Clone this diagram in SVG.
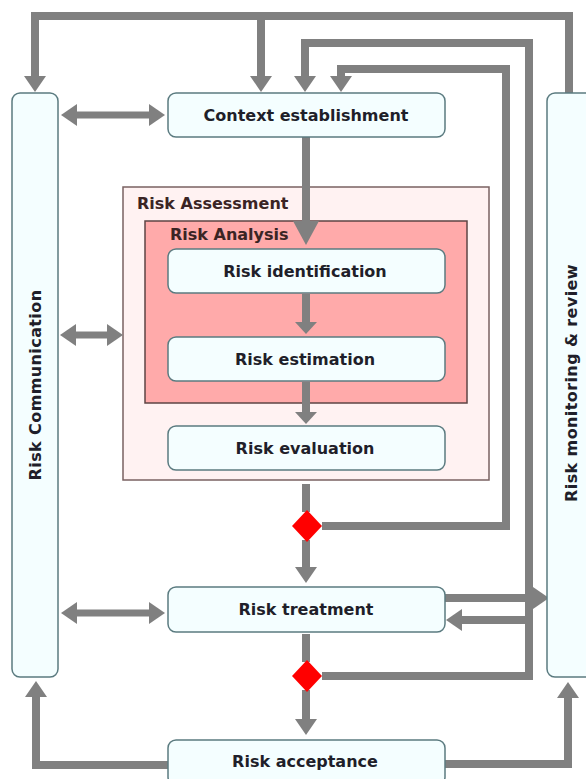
<svg xmlns="http://www.w3.org/2000/svg" width="586" height="779" viewBox="0 0 586 779">
<style>
.node{fill:#f4feff;stroke:#5b7b80;stroke-width:1.5}
.lbl{font-family:"DejaVu Sans","Verdana",sans-serif;font-weight:bold;font-size:16px;fill:#1f1f2a;text-anchor:middle;dominant-baseline:central}
.vl{letter-spacing:0.4px}
.ttl{font-family:"DejaVu Sans","Verdana",sans-serif;font-weight:bold;font-size:16px;fill:#3a2424}
.ln{fill:none;stroke:#808080;stroke-width:8;stroke-linejoin:miter}
.thin{fill:none;stroke:#808080;stroke-width:7}
</style>
<defs>
<marker id="ah" markerUnits="userSpaceOnUse" markerWidth="16" markerHeight="22" viewBox="0 0 16 22" refX="0" refY="11" orient="auto-start-reverse"><path d="M0,0 L16,11 L0,22 Z" fill="#808080"/></marker>
<marker id="ahb" markerUnits="userSpaceOnUse" markerWidth="24" markerHeight="26" viewBox="0 0 24 26" refX="0" refY="13" orient="auto"><path d="M0,0 L24,13 L0,26 Z" fill="#808080"/></marker>
<marker id="ahs" markerUnits="userSpaceOnUse" markerWidth="12" markerHeight="22" viewBox="0 0 12 22" refX="0" refY="11" orient="auto"><path d="M0,0 L12,11 L0,22 Z" fill="#808080"/></marker>
</defs>

<g id="risk-assessment">
<rect x="123" y="187" width="366" height="293" fill="#fff2f2" stroke="#7a6262" stroke-width="1.5"/>
<text class="ttl" x="137" y="209">Risk Assessment</text>
</g>
<g id="risk-analysis">
<rect x="145" y="221" width="322" height="182" fill="#ffaaaa" stroke="#5e4444" stroke-width="1.5"/>
<text class="ttl" x="170" y="240">Risk Analysis</text>
</g>

<g id="connectors">
<path class="ln" d="M569,93 V16 H35 V76" marker-end="url(#ah)"/>
<path class="ln" d="M261,16 V76" marker-end="url(#ah)"/>
<path class="ln" d="M322,676 H529 V43 H305 V76" marker-end="url(#ah)"/>
<path class="ln" d="M322,526 H506 V69 H341 V76" marker-end="url(#ah)"/>
<path class="ln" d="M306,137 V221" marker-end="url(#ahb)"/>
<path class="ln" d="M306,294 V322" marker-end="url(#ahs)"/>
<path class="ln" d="M306,382 V412" marker-end="url(#ahs)"/>
<path class="ln" d="M306,484 V512"/>
<path class="ln" d="M306,540 V567" marker-end="url(#ah)"/>
<path class="ln" d="M306,634 V662"/>
<path class="ln" d="M306,690 V719" marker-end="url(#ah)"/>
<path class="ln" d="M445,598 H533" marker-end="url(#ah)"/>
<path class="ln" d="M525,620 H462" marker-end="url(#ah)"/>
<path class="ln" d="M445,764 H568 V698" marker-end="url(#ah)"/>
<path class="ln" d="M168,765 H36 V697" marker-end="url(#ah)"/>
<path class="thin" d="M77,115 H149" marker-start="url(#ah)" marker-end="url(#ah)"/>
<path class="thin" d="M76,335 H107" marker-start="url(#ah)" marker-end="url(#ah)"/>
<path class="thin" d="M77,613 H149" marker-start="url(#ah)" marker-end="url(#ah)"/>
</g>

<g id="risk-communication">
<rect class="node" x="12" y="93" width="46" height="584" rx="8"/>
<text class="lbl vl" transform="translate(35,385) rotate(-90)">Risk Communication</text>
</g>
<g id="risk-monitoring">
<rect class="node" x="547" y="93" width="56" height="584" rx="8"/>
<text class="lbl vl" transform="translate(571,383) rotate(-90)">Risk monitoring &amp; review</text>
</g>
<g id="context-establishment">
<rect class="node" x="168" y="93" width="277" height="44" rx="8"/>
<text class="lbl" x="306" y="115">Context establishment</text>
</g>
<g id="risk-identification">
<rect class="node" x="168" y="249" width="277" height="44" rx="8"/>
<text class="lbl" x="305" y="271">Risk identification</text>
</g>
<g id="risk-estimation">
<rect class="node" x="168" y="337" width="277" height="44" rx="8"/>
<text class="lbl" x="305" y="359">Risk estimation</text>
</g>
<g id="risk-evaluation">
<rect class="node" x="168" y="426" width="277" height="44" rx="8"/>
<text class="lbl" x="305" y="448">Risk evaluation</text>
</g>
<g id="decision-1">
<polygon points="307,510 322,526 307,542 292,526" fill="#ff0000"/>
</g>
<g id="risk-treatment">
<rect class="node" x="168" y="587" width="277" height="45" rx="8"/>
<text class="lbl" x="306" y="609">Risk treatment</text>
</g>
<g id="decision-2">
<polygon points="307,660 322,676 307,692 292,676" fill="#ff0000"/>
</g>
<g id="risk-acceptance">
<rect class="node" x="168" y="740" width="277" height="45" rx="8"/>
<text class="lbl" x="305" y="761">Risk acceptance</text>
</g>
</svg>
